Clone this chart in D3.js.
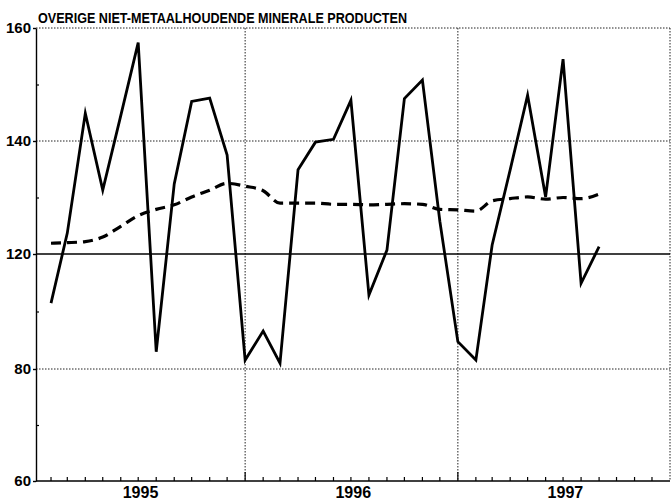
<!DOCTYPE html>
<html>
<head>
<meta charset="utf-8">
<script src="https://cdn.jsdelivr.net/npm/d3@7"></script>
<style>
  body { margin: 0; background: #fff; }
  text { font-family: "Liberation Sans", Arial, sans-serif; fill: #000; }
</style>
</head>
<body>
<div id="vis"></div>
<script>
// Data
var title = "OVERIGE NIET-METAALHOUDENDE MINERALE PRODUCTEN"
var months = ["1995-02","1995-03","1995-04","1995-05","1995-06","1995-07","1995-08","1995-09","1995-10","1995-11","1995-12",
              "1996-01","1996-02","1996-03","1996-04","1996-05","1996-06","1996-07","1996-08","1996-09","1996-10","1996-11","1996-12",
              "1997-01","1997-02","1997-03","1997-04","1997-05","1997-06","1997-07","1997-08","1997-09"]
var index = [102.9, 123.7, 144.9, 131.3, 144.5, 157.4, 86.0, 132.4, 147.0, 147.6, 137.5,
             83.1, 93.2, 82.0, 134.9, 139.8, 140.3, 147.2, 105.7, 120.7, 147.5, 150.8, 125.8,
             89.5, 83.1, 121.6, 134.9, 148.1, 130.1, 154.5, 109.8, 121.3]
var trend = [121.9, 122.0, 122.2, 123.0, 124.9, 126.8, 127.9, 128.7, 130.1, 131.3, 132.5,
             132.0, 131.2, 129.0, 129.0, 129.0, 128.8, 128.8, 128.7, 128.8, 128.9, 128.8, 127.9,
             127.8, 127.6, 129.4, 129.8, 130.1, 129.7, 130.0, 129.8, 130.6]
var yTicks = [60, 80, 120, 140, 160]
var yMinor = [70, 100, 130, 150]
var years = ["1995", "1996", "1997"]
var baseLine = 120

//measurements
var width = 671, height = 502
var mLeft = 36, mRight = 670, mTop = 28, mBottom = 481

var parse = d3.timeParse("%Y-%m")
var data = months.map((m, i) => ({date: parse(m), v: index[i], t: trend[i]}))

var x = d3.scaleTime()
  .domain([new Date(1995, 0, 1), new Date(1998, 0, 1)])
  .range([33, mRight])

// the value axis is not evenly spaced in the original
var y = d3.scaleLinear()
  .domain([60, 80, 120, 140, 160])
  .range([mBottom, 369, 254, 141, mTop])

var svg = d3.select("#vis").append("svg")
  .attr("width", width)
  .attr("height", height)

var dotted = "1.5,1.5"

// horizontal grid
svg.append("g").selectAll("line")
  .data(yTicks.filter(d => d != 60 && d != baseLine))
  .enter().append("line")
  .attr("x1", mLeft).attr("x2", mRight)
  .attr("y1", d => y(d)).attr("y2", d => y(d))
  .style("stroke", "#222").style("stroke-width", 1)
  .style("stroke-dasharray", dotted)

// vertical grid at year boundaries + right edge
var yearStarts = years.map(d => new Date(+d + 1, 0, 1))
svg.append("g").selectAll("line")
  .data(yearStarts)
  .enter().append("line")
  .attr("x1", d => x(d)).attr("x2", d => x(d))
  .attr("y1", mTop).attr("y2", mBottom)
  .style("stroke", "#222").style("stroke-width", 1)
  .style("stroke-dasharray", dotted)

// base line
svg.append("line")
  .attr("x1", mLeft).attr("x2", mRight)
  .attr("y1", y(baseLine)).attr("y2", y(baseLine))
  .style("stroke", "#000").style("stroke-width", 1.6)

// y axis
var yAxis = svg.append("g")
  .attr("transform", `translate(${mLeft},0)`)
  .call(d3.axisLeft(y).tickValues(yTicks).tickSize(3).tickPadding(2).tickSizeOuter(0))
yAxis.select(".domain").style("stroke-width", 1.4)
yAxis.selectAll("text").style("font-size", "15px").style("font-weight", "bold")
  .style("font-family", "'Liberation Sans', Arial, sans-serif")
yAxis.selectAll("line").style("stroke-width", 1.4)

svg.append("g")
  .attr("transform", `translate(${mLeft},0)`)
  .call(d3.axisRight(y).tickValues(yMinor).tickSize(3).tickFormat("").tickSizeOuter(0))
  .call(g => g.select(".domain").remove())
  .selectAll("line").style("stroke-width", 1.2)

// x axis
svg.append("line")
  .attr("x1", mLeft).attr("x2", mRight)
  .attr("y1", mBottom).attr("y2", mBottom)
  .style("stroke", "#000").style("stroke-width", 1.6)

var monthTicks = d3.timeMonth.range(new Date(1995, 1, 1), new Date(1998, 0, 1))
svg.append("g").selectAll("line")
  .data(monthTicks)
  .enter().append("line")
  .attr("x1", d => x(d)).attr("x2", d => x(d))
  .attr("y1", mBottom).attr("y2", d => d.getMonth() == 0 ? mBottom - 9 : mBottom - 4)
  .style("stroke", "#000").style("stroke-width", 1.2)

svg.append("g").selectAll("text")
  .data(years)
  .enter().append("text")
  .attr("x", d => x(new Date(+d, 6, 5)))
  .attr("y", 498)
  .attr("text-anchor", "middle")
  .style("font-size", "16px")
  .style("font-weight", "bold")
  .text(d => d)

// title
svg.append("text")
  .attr("x", 38)
  .attr("y", 23)
  .attr("textLength", 369)
  .attr("lengthAdjust", "spacingAndGlyphs")
  .style("font-size", "14px")
  .style("font-weight", "bold")
  .text(title)

// trend (dashed)
svg.append("path")
  .datum(data)
  .attr("d", d3.line().x(d => x(d.date)).y(d => y(d.t)).curve(d3.curveMonotoneX))
  .style("fill", "none")
  .style("stroke", "#000")
  .style("stroke-width", 3.2)
  .style("stroke-dasharray", "10,6")

// index (solid)
svg.append("path")
  .datum(data)
  .attr("d", d3.line().x(d => x(d.date)).y(d => y(d.v)))
  .style("fill", "none")
  .style("stroke", "#000")
  .style("stroke-width", 2.8)
  .style("stroke-linejoin", "miter")
  .style("stroke-miterlimit", 6)
</script>
</body>
</html>
